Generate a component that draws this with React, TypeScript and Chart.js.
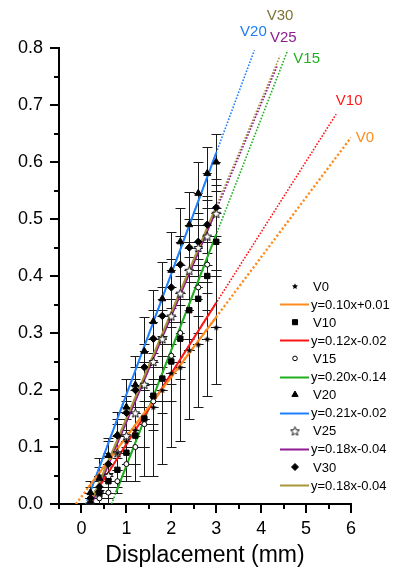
import React, { useEffect, useRef } from 'react';
import { Chart, registerables } from 'chart.js';
import { drawPoint } from 'chart.js/helpers';

Chart.register(...registerables);

// ---------- data ----------
const seriesNames = ['V0', 'V10', 'V15', 'V20', 'V25', 'V30'];
const fitLabels = ['y=0.10x+0.01', 'y=0.12x-0.02', 'y=0.20x-0.14', 'y=0.21x-0.02', 'y=0.18x-0.04', 'y=0.18x-0.04'];

const xValues = [0.2, 0.4, 0.6, 0.8, 1.0, 1.2, 1.4, 1.6, 1.8, 2.0, 2.2, 2.4, 2.6, 2.8, 3.0];

const v0Y = [0.02, 0.05, 0.07, 0.09, 0.11, 0.13, 0.15, 0.17, 0.2, 0.23, 0.24, 0.27, 0.28, 0.29, 0.31];
const v0Err = [0.02, 0.03, 0.04, 0.05, 0.07, 0.09, 0.1, 0.12, 0.13, 0.13, 0.13, 0.12, 0.11, 0.1, 0.1];

const v10Y = [0.0, 0.02, 0.04, 0.06, 0.09, 0.12, 0.15, 0.19, 0.22, 0.25, 0.29, 0.34, 0.36, 0.4, 0.46];
const v10Err = [0.01, 0.02, 0.03, 0.03, 0.04, 0.05, 0.05, 0.06, 0.06, 0.07, 0.07, 0.07, 0.06, 0.06, 0.06];

const v15Y = [0.0, 0.01, 0.02, 0.04, 0.07, 0.1, 0.14, 0.18, 0.22, 0.26, 0.3, 0.34, 0.38, 0.42, 0.46];
const v15Err = [0.01, 0.01, 0.02, 0.02, 0.03, 0.03, 0.04, 0.04, 0.04, 0.05, 0.05, 0.05, 0.05, 0.05, 0.05];

const v20Y = [0.02, 0.045, 0.085, 0.121, 0.17, 0.209, 0.268, 0.32, 0.36, 0.41, 0.46, 0.49, 0.545, 0.58, 0.6];
const v20Err = [0.01, 0.02, 0.03, 0.04, 0.05, 0.05, 0.06, 0.055, 0.065, 0.067, 0.06, 0.057, 0.055, 0.046, 0.05];

const v25Y = [0.0, 0.02, 0.05, 0.09, 0.12, 0.16, 0.21, 0.25, 0.29, 0.33, 0.37, 0.41, 0.45, 0.47, 0.51];
const v25Err = [0.01, 0.01, 0.02, 0.03, 0.03, 0.04, 0.04, 0.04, 0.05, 0.05, 0.05, 0.05, 0.05, 0.05, 0.05];

const v30Y = [0.01, 0.03, 0.07, 0.12, 0.16, 0.2, 0.24, 0.29, 0.33, 0.38, 0.42, 0.45, 0.46, 0.49, 0.52];
const v30Err = [0.01, 0.02, 0.02, 0.03, 0.03, 0.04, 0.04, 0.05, 0.05, 0.05, 0.05, 0.05, 0.05, 0.05, 0.05];

const xErrHalf = [0.12, 0.1, 0.1, 0.1, 0.1, 0.1];

// fitted lines as drawn (slope, intercept), solid range and dotted extension end
const fitSlopes = [0.105, 0.124, 0.203, 0.212, 0.186, 0.186];
const fitIntercepts = [0.013, -0.019, -0.136, -0.02, -0.042, -0.036];
const solidStart = [0.15, 0.26, 0.77, 0.2, 0.25, 0.22];
const solidEnd = [3, 3, 3, 3, 3, 3];
const dottedEnd = [6.0, 5.67, 4.59, 3.85, 4.36, 4.42];

const xTicks = [0, 1, 2, 3, 4, 5, 6];
const yTicks = [0, 0.1, 0.2, 0.3, 0.4, 0.5, 0.6, 0.7, 0.8];
const xMinorTicks = [-0.5, 0.5, 1.5, 2.5, 3.5, 4.5, 5.5];
const yMinorTicks = [0.05, 0.15, 0.25, 0.35, 0.45, 0.55, 0.65, 0.75];

// ---------- style ----------
const FONT = "'Liberation Sans', Arial, sans-serif";
const lineColors = ['#FF8A1E', '#FF1414', '#1FAF1F', '#1E80FF', '#8E1A94', '#A8963A'];
const labelColors = ['#FF8C1A', '#FF1A1A', '#22B022', '#1E7DF0', '#8B1E8B', '#7D7438'];
const labelOffsets = [[14, 0], [13, -13], [19, 8], [-1, -18], [6, -28], [0, -40]];
const solidOrder = [1, 1, 1, 1, 1, 0.5];

function makeStar(size: number, filled: boolean): HTMLCanvasElement {
  const c = document.createElement('canvas');
  c.width = size;
  c.height = size;
  const ctx = c.getContext('2d')!;
  const cx = size / 2;
  const cy = size / 2 + size * 0.06;
  const R = size / 2 - 0.8;
  const r = R * 0.45;
  ctx.beginPath();
  for (let k = 0; k < 10; k++) {
    const a = -Math.PI / 2 + (k * Math.PI) / 5;
    const rad = k % 2 === 0 ? R : r;
    const px = cx + rad * Math.cos(a);
    const py = cy + rad * Math.sin(a);
    if (k === 0) ctx.moveTo(px, py);
    else ctx.lineTo(px, py);
  }
  ctx.closePath();
  if (filled) {
    ctx.fillStyle = '#000';
    ctx.fill();
  } else {
    ctx.fillStyle = '#fff';
    ctx.fill();
    ctx.strokeStyle = '#000';
    ctx.lineWidth = 0.9;
    ctx.stroke();
  }
  return c;
}

export default function App() {
  const ref = useRef<HTMLCanvasElement>(null);

  useEffect(() => {
    const canvas = ref.current;
    if (!canvas) return;
    const ys = [v0Y, v10Y, v15Y, v20Y, v25Y, v30Y];
    const errs = [v0Err, v10Err, v15Err, v20Err, v25Err, v30Err];

    const starFilled = makeStar(8, true);
    const starHollow = makeStar(11, false);
    const pointStyles: any[] = [starFilled, 'rect', 'circle', 'triangle', starHollow, 'rectRot'];
    const legendStyles: any[] = [starFilled, 'rect', 'circle', 'triangle', starHollow, 'rectRot'];
    const radii = [4, 3.8, 2.5, 4, 5, 3.7];
    const legendRadii = [3.5, 3.6, 2.3, 3.6, 5, 3.5];
    const fills = ['#000', '#000', '#fff', '#000', '#fff', '#000'];

    const datasets: any[] = [];
    seriesNames.forEach((name, i) => {
      datasets.push({
        type: 'scatter',
        label: name,
        data: xValues.map((x, j) => ({ x, y: ys[i][j] })),
        pointStyle: pointStyles[i],
        pointRadius: radii[i],
        pointBackgroundColor: fills[i],
        pointBorderColor: '#000',
        pointBorderWidth: 1,
        showLine: false,
        order: 0,
        errY: errs[i],
        errX: xErrHalf[i],
      });
    });
    seriesNames.forEach((name, i) => {
      const m = fitSlopes[i];
      const b = fitIntercepts[i];
      datasets.push({
        type: 'line',
        label: fitLabels[i],
        data: [solidStart[i], solidEnd[i]].map((x) => ({ x, y: m * x + b })),
        borderColor: lineColors[i],
        borderWidth: 2,
        pointRadius: 0,
        fill: false,
        order: solidOrder[i],
      });
    });
    seriesNames.forEach((name, i) => {
      const m = fitSlopes[i];
      const b = fitIntercepts[i];
      const x0 = -b / m;
      datasets.push({
        type: 'line',
        label: name + ' ext',
        data: [x0, dottedEnd[i]].map((x) => ({ x, y: m * x + b })),
        borderColor: lineColors[i],
        borderWidth: i === 0 ? 2.3 : 1.6,
        borderDash: i === 0 ? [2.2, 2.2] : [1.6, 1.6],
        pointRadius: 0,
        fill: false,
        order: 2,
      });
    });

    const errorBars = {
      id: 'errorBars',
      beforeDatasetsDraw(chart: any) {
        const { ctx, scales } = chart;
        const xs = scales.x;
        const yS = scales.y;
        ctx.save();
        ctx.strokeStyle = '#1a1a1a';
        ctx.lineWidth = 1;
        chart.data.datasets.forEach((ds: any) => {
          if (!ds.errY) return;
          ds.data.forEach((p: any, j: number) => {
            const px = Math.round(xs.getPixelForValue(p.x)) + 0.5;
            const yTop = Math.round(yS.getPixelForValue(p.y + ds.errY[j])) + 0.5;
            const yBot = Math.round(yS.getPixelForValue(Math.max(p.y - ds.errY[j], 0))) + 0.5;
            const py = Math.round(yS.getPixelForValue(p.y)) + 0.5;
            const xl = xs.getPixelForValue(p.x - ds.errX);
            const xr = xs.getPixelForValue(p.x + ds.errX);
            ctx.beginPath();
            ctx.moveTo(px, yTop);
            ctx.lineTo(px, yBot);
            ctx.moveTo(px - 5, yTop);
            ctx.lineTo(px + 5, yTop);
            if (p.y - ds.errY[j] > 0) {
              ctx.moveTo(px - 5, yBot);
              ctx.lineTo(px + 5, yBot);
            }
            ctx.moveTo(xl, py);
            ctx.lineTo(xr, py);
            ctx.stroke();
          });
        });
        ctx.restore();
      },
    };

    const decorations = {
      id: 'decorations',
      afterDraw(chart: any) {
        const { ctx, scales } = chart;
        const xs = scales.x;
        const yS = scales.y;
        const area = chart.chartArea;
        ctx.save();
        // minor ticks
        ctx.strokeStyle = '#000';
        ctx.lineWidth = 2;
        ctx.beginPath();
        xMinorTicks.forEach((v) => {
          const px = Math.round(xs.getPixelForValue(v));
          ctx.moveTo(px, area.bottom);
          ctx.lineTo(px, area.bottom + 5);
        });
        yMinorTicks.forEach((v) => {
          const py = Math.round(yS.getPixelForValue(v));
          ctx.moveTo(area.left, py);
          ctx.lineTo(area.left - 5, py);
        });
        ctx.stroke();

        // series labels at the end of dotted lines
        ctx.font = `15px ${FONT}`;
        ctx.textAlign = 'center';
        ctx.textBaseline = 'middle';
        seriesNames.forEach((name, i) => {
          const xe = dottedEnd[i];
          const ye = fitSlopes[i] * xe + fitIntercepts[i];
          const px = xs.getPixelForValue(xe) + labelOffsets[i][0];
          const py = yS.getPixelForValue(ye) + labelOffsets[i][1];
          ctx.fillStyle = labelColors[i];
          ctx.fillText(name, px, py);
        });

        // legend
        const rowY0 = 286;
        const pitch = 18.1;
        const markerX = 295;
        const nameX = 313;
        const lineX0 = 280;
        const lineX1 = 309;
        const eqX = 311;
        ctx.font = `13px ${FONT}`;
        ctx.textAlign = 'left';
        ctx.textBaseline = 'middle';
        seriesNames.forEach((name, i) => {
          const y1 = rowY0 + pitch * (2 * i);
          const y2 = rowY0 + pitch * (2 * i + 1);
          ctx.fillStyle = fills[i];
          ctx.strokeStyle = '#000';
          ctx.lineWidth = 1;
          drawPoint(ctx, { pointStyle: legendStyles[i], rotation: 0, radius: legendRadii[i], borderWidth: 1 } as any, markerX, y1);
          ctx.fillStyle = '#000';
          ctx.fillText(name, nameX, y1 + 1);
          ctx.strokeStyle = lineColors[i];
          ctx.lineWidth = 2;
          ctx.beginPath();
          ctx.moveTo(lineX0, Math.round(y2) + 0.5);
          ctx.lineTo(lineX1, Math.round(y2) + 0.5);
          ctx.stroke();
          ctx.fillStyle = '#000';
          ctx.fillText(fitLabels[i], eqX, y2 + 1);
        });
        ctx.restore();
      },
    };

    const tickFont = { family: FONT, size: 18 };
    const chart = new Chart(canvas, {
      type: 'line',
      data: { datasets },
      options: {
        animation: false,
        responsive: false,
        devicePixelRatio: 1,
        layout: { padding: { top: 48, right: 42, left: 0, bottom: 0 } },
        plugins: { legend: { display: false }, tooltip: { enabled: false } },
        scales: {
          x: {
            type: 'linear',
            min: -0.5,
            max: 6,
            afterBuildTicks: (s: any) => {
              s.ticks = xTicks.map((v) => ({ value: v }));
            },
            afterFit: (s: any) => {
              s.height = 65;
            },
            ticks: {
              color: '#000',
              font: tickFont,
              padding: 5,
              maxRotation: 0,
              callback: (v: any) => String(v),
            },
            grid: {
              drawOnChartArea: false,
              drawTicks: true,
              tickLength: 9,
              tickWidth: 2,
              tickColor: '#000',
              color: '#000',
              lineWidth: 2,
            },
            border: { display: true, color: '#000', width: 2 },
            title: {
              display: true,
              text: 'Displacement (mm)',
              color: '#000',
              font: { family: FONT, size: 23 },
              padding: { top: 0, bottom: 0 },
            },
          },
          y: {
            type: 'linear',
            min: 0,
            max: 0.8,
            afterBuildTicks: (s: any) => {
              s.ticks = yTicks.map((v) => ({ value: v }));
            },
            afterFit: (s: any) => {
              s.width = 59;
            },
            ticks: {
              color: '#000',
              font: tickFont,
              padding: 7,
              callback: (v: any) => Number(v).toFixed(1),
            },
            grid: {
              drawOnChartArea: false,
              drawTicks: true,
              tickLength: 9,
              tickWidth: 2,
              tickColor: '#000',
              color: '#000',
              lineWidth: 2,
            },
            border: { display: true, color: '#000', width: 2 },
          },
        },
      } as any,
      plugins: [errorBars, decorations],
    });
    return () => chart.destroy();
  }, []);

  return (
    <div style={{ position: 'fixed', left: 0, top: 0, width: 393, height: 569, background: '#fff' }}>
      <canvas ref={ref} width={393} height={569} style={{ display: 'block', width: 393, height: 569 }} />
    </div>
  );
}
